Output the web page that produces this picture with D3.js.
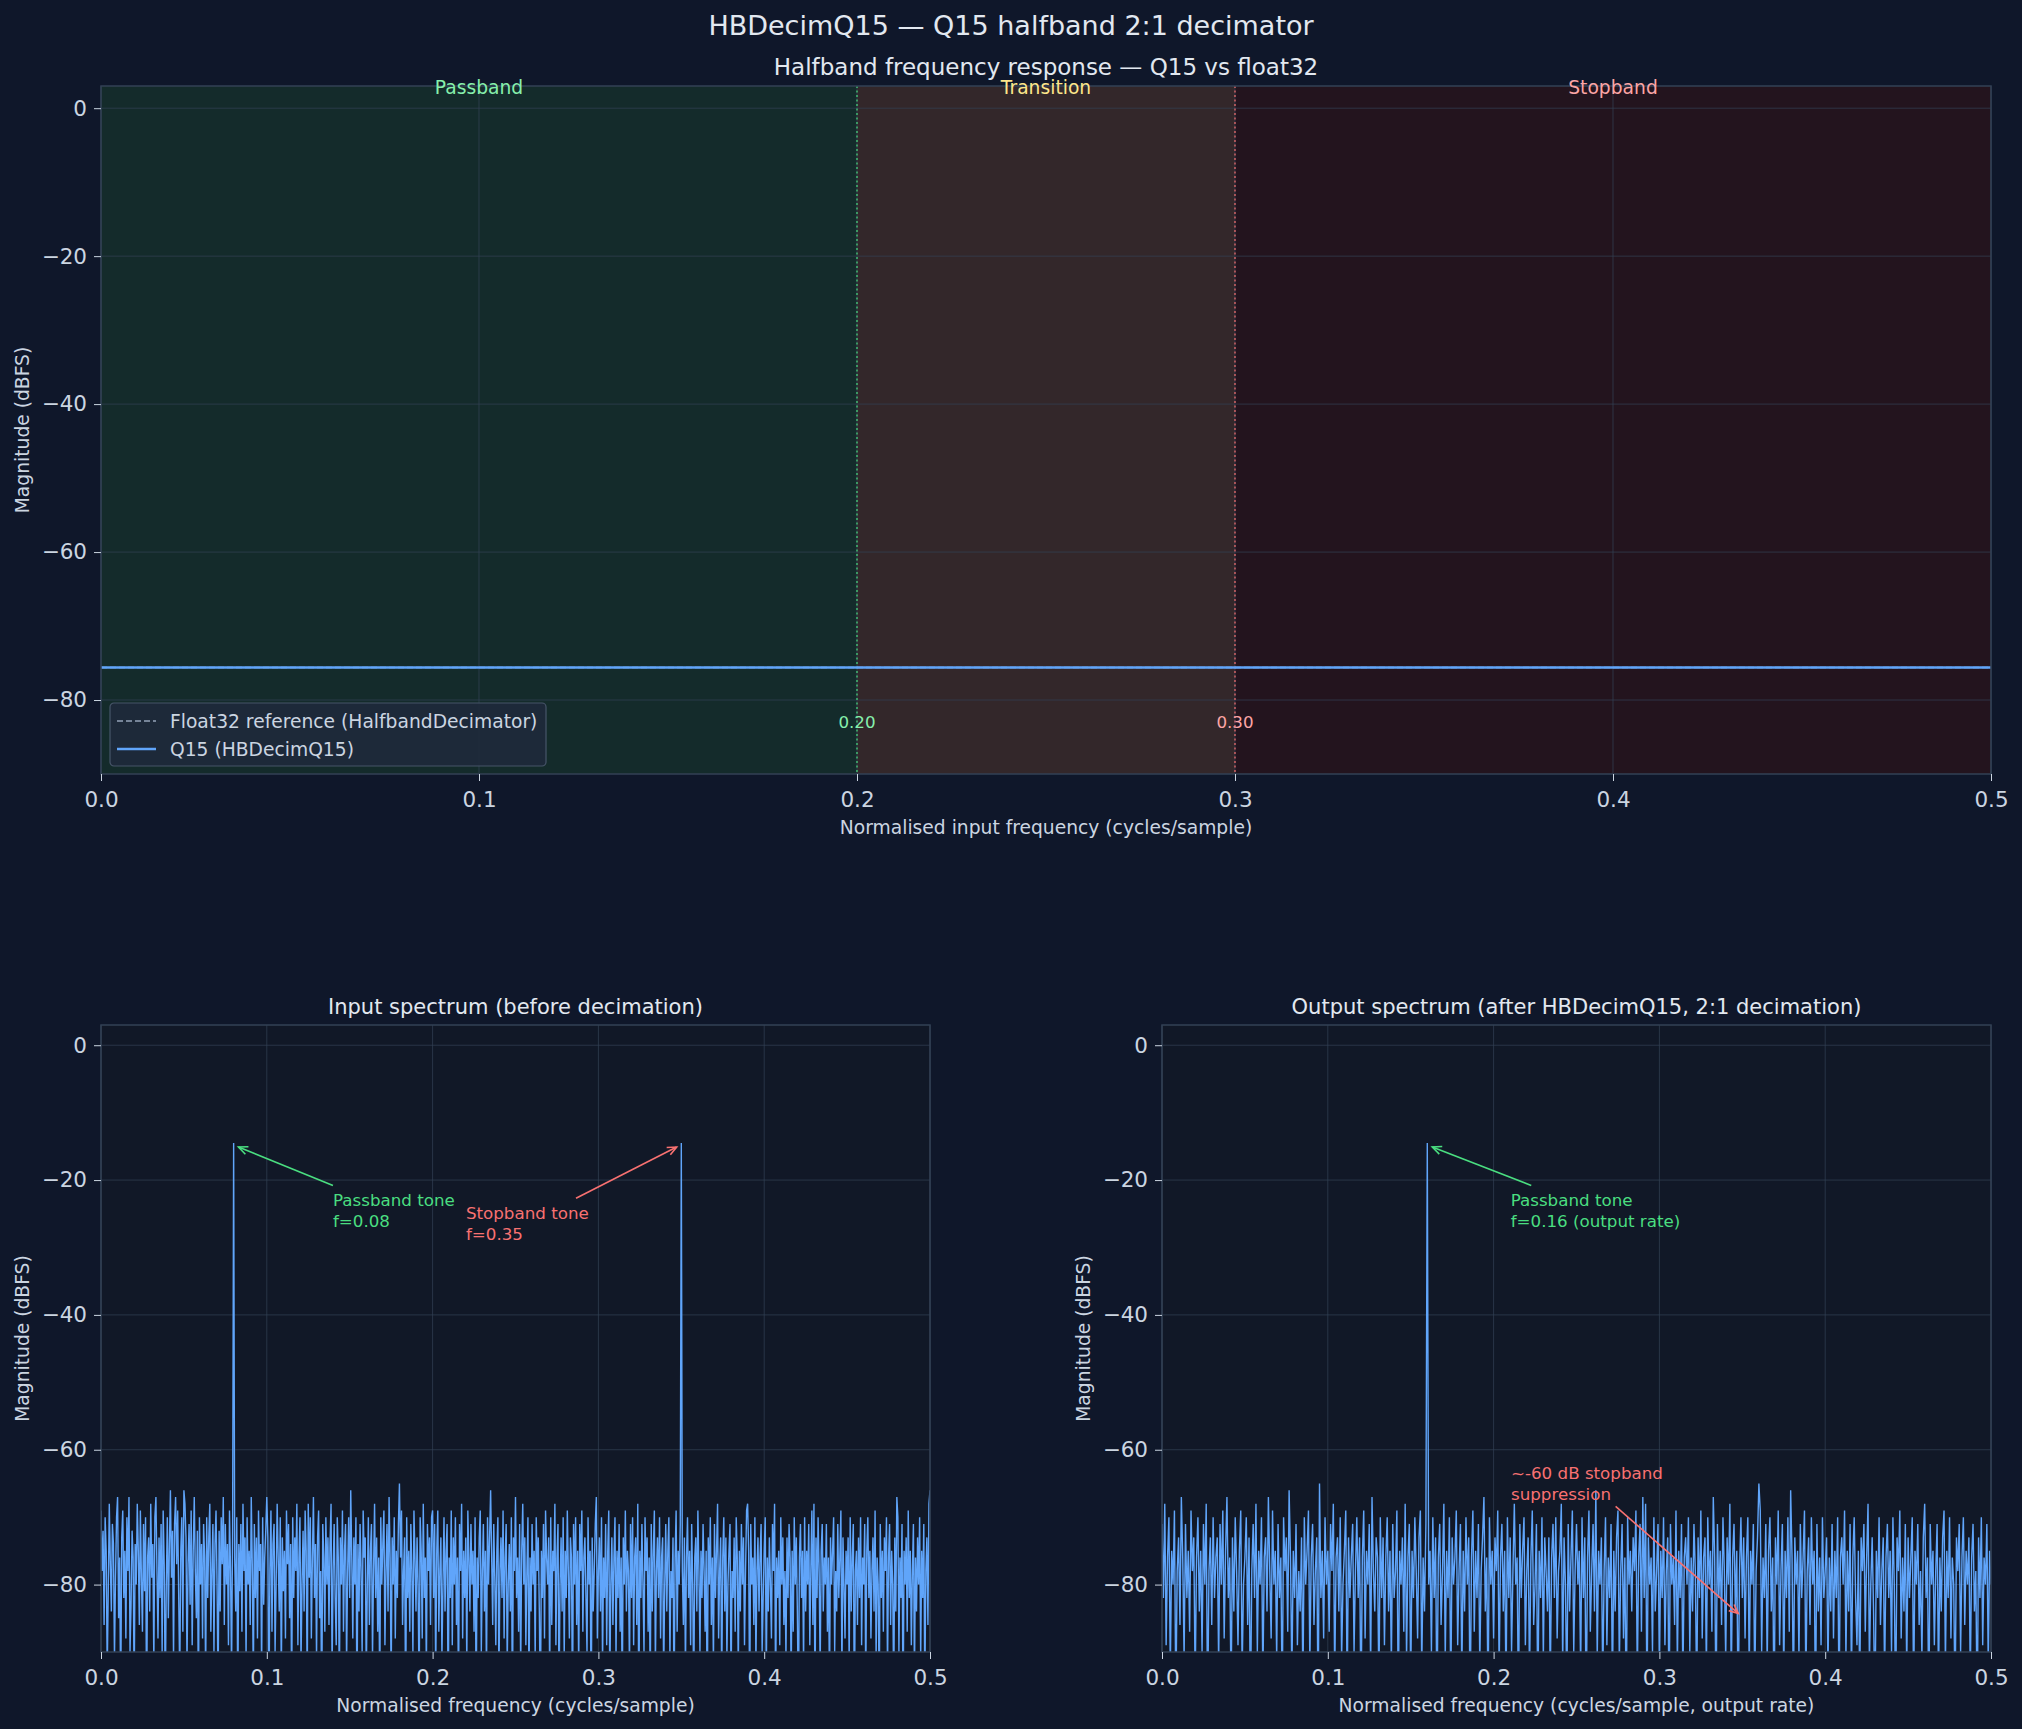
<!DOCTYPE html>
<html>
<head>
<meta charset="utf-8">
<script src="https://cdn.jsdelivr.net/npm/d3@7"></script>
<style>
  html, body { margin: 0; padding: 0; background: #0f172a; }
  svg { display: block; font-family: 'DejaVu Sans', sans-serif; }
</style>
</head>
<body>
<div id="chart"></div>
<script>
/* HBDecimQ15 halfband decimator figure */

/* ---- data ---- */
var xTicks = [0, 0.1, 0.2, 0.3, 0.4, 0.5];
var yTicks = [-80, -60, -40, -20, 0];
var yDomain = [-90, 3];

var bandNames = ['Passband', 'Transition', 'Stopband'];
var bandEdges = [[0, 0.2], [0.2, 0.3], [0.3, 0.5]];
var edgeMarks = [0.2, 0.3];

// halfband response (both curves sit on the same flat level)
var respFreq = [0, 0.5];
var float32Db = [-75.6, -75.6];
var q15Db = [-75.6, -75.6];

// input spectrum, 801 bins from 0 to 0.5 (tones at 0.08 and 0.35)
var inputDb = [
  -69, -78, -72, -86, -70, -75, -93, -81, -68, -77, -84, -71, -74, -91, -79, -70, -67, -85, -76, -98,
  -73, -69, -82, -75, -88, -70, -78, -67, -90, -83, -72, -76, -96, -74, -80, -68, -75, -86, -69, -79,
  -87, -71, -81, -70, -100, -76, -73, -84, -68, -79, -74, -92, -70, -67, -78, -88, -73, -82, -71, -90,
  -69, -77, -97, -80, -70, -85, -74, -66, -79, -72, -91, -71, -67, -77, -69, -82, -94, -75, -70, -87,
  -66, -68, -73, -92, -77, -71, -83, -69, -89, -75, -67, -78, -85, -72, -99, -70, -80, -74, -88, -71,
  -76, -94, -70, -82, -73, -68, -87, -78, -71, -90, -74, -69, -80, -96, -72, -84, -70, -77, -67, -86,
  -71, -80, -74, -89, -69, -78, -93, -72, -14.5, -76, -84, -70, -98, -74, -81, -71, -87, -68, -78, -73,
  -91, -70, -80, -75, -86, -67, -77, -95, -71, -82, -73, -88, -69, -78, -74, -93, -70, -83, -76, -72,
  -67, -73, -100, -78, -69, -87, -74, -71, -90, -80, -68, -76, -84, -70, -94, -73, -81, -75, -88, -69,
  -77, -71, -85, -74, -97, -70, -82, -73, -78, -68, -89, -76, -70, -92, -80, -72, -84, -69, -75, -95,
  -68, -79, -70, -88, -76, -67, -82, -74, -91, -73, -69, -85, -78, -100, -71, -76, -87, -70, -80, -73,
  -86, -74, -68, -93, -78, -71, -82, -89, -70, -76, -96, -73, -80, -69, -87, -75, -71, -92, -78, -70,
  -82, -66, -76, -88, -73, -80, -70, -99, -74, -84, -71, -78, -90, -69, -76, -73, -94, -80, -70, -86,
  -75, -71, -91, -78, -68, -82, -73, -87, -76, -97, -70, -80, -74, -69, -89, -78, -71, -84, -67, -76,
  -95, -73, -80, -70, -88, -75, -82, -71, -65, -76, -69, -86, -78, -73, -100, -70, -82, -75, -87, -71,
  -78, -90, -69, -76, -84, -73, -80, -97, -70, -75, -88, -68, -82, -76, -93, -71, -78, -73, -86, -70,
  -69, -82, -71, -94, -75, -69, -87, -78, -73, -91, -80, -70, -84, -75, -71, -100, -76, -82, -69, -89,
  -73, -80, -70, -86, -76, -97, -71, -78, -68, -88, -75, -82, -73, -92, -69, -76, -84, -71, -80, -75,
  -87, -70, -99, -76, -82, -73, -69, -90, -78, -71, -84, -75, -94, -70, -80, -73, -66, -76, -86, -71,
  -79, -89, -75, -70, -95, -78, -73, -82, -69, -88, -76, -71, -92, -80, -74, -84, -70, -100, -73, -78,
  -67, -82, -76, -87, -71, -93, -75, -68, -80, -73, -89, -78, -70, -96, -76, -84, -71, -80, -75, -91,
  -70, -78, -73, -84, -100, -75, -82, -71, -88, -69, -76, -80, -73, -94, -70, -86, -75, -78, -68, -89,
  -76, -71, -97, -80, -73, -84, -70, -91, -75, -82, -69, -78, -88, -73, -76, -99, -71, -80, -70, -86,
  -75, -93, -71, -78, -69, -87, -76, -73, -82, -90, -70, -80, -75, -100, -73, -84, -78, -71, -67, -88,
  -78, -73, -84, -70, -92, -76, -82, -71, -89, -75, -69, -95, -80, -73, -86, -76, -70, -91, -75, -82,
  -71, -87, -76, -98, -73, -80, -69, -84, -75, -78, -93, -71, -82, -70, -89, -76, -73, -86, -68, -100,
  -75, -82, -71, -80, -90, -70, -78, -73, -87, -76, -96, -71, -84, -75, -69, -92, -78, -73, -82, -70,
  -88, -76, -73, -94, -80, -71, -84, -75, -70, -91, -78, -82, -73, -99, -76, -69, -87, -75, -80, -71,
  -14.5, -78, -86, -73, -93, -76, -70, -82, -75, -89, -71, -80, -97, -76, -73, -84, -69, -78, -90, -75,
  -82, -71, -78, -87, -75, -100, -73, -80, -70, -86, -76, -92, -71, -82, -75, -68, -88, -78, -73, -95,
  -76, -70, -84, -73, -91, -80, -75, -71, -96, -78, -82, -73, -87, -70, -76, -93, -75, -84, -71, -80,
  -73, -89, -78, -69, -68, -75, -99, -71, -80, -76, -86, -70, -92, -78, -73, -84, -76, -71, -90, -82,
  -75, -70, -94, -76, -84, -73, -80, -88, -71, -78, -68, -97, -76, -82, -75, -89, -70, -80, -73, -86,
  -78, -91, -73, -82, -71, -76, -95, -75, -87, -70, -80, -73, -84, -100, -76, -71, -82, -75, -92, -70,
  -84, -75, -80, -71, -89, -78, -69, -86, -68, -98, -73, -82, -70, -78, -93, -75, -71, -84, -76, -80,
  -71, -87, -76, -96, -73, -80, -75, -70, -90, -78, -84, -71, -82, -76, -69, -94, -73, -80, -88, -75,
  -80, -73, -92, -70, -84, -76, -71, -100, -78, -75, -86, -73, -82, -70, -89, -76, -80, -71, -95, -75,
  -70, -82, -75, -88, -78, -73, -84, -69, -91, -76, -80, -98, -71, -82, -75, -87, -73, -78, -70, -93,
  -76, -71, -86, -75, -80, -97, -73, -84, -67, -70, -90, -76, -82, -71, -100, -75, -80, -73, -87, -69,
  -82, -75, -89, -78, -71, -94, -76, -84, -73, -80, -70, -91, -75, -82, -71, -96, -78, -73, -86, -68,
  -66
];

// output spectrum after 2:1 decimation, 601 bins (tone at 0.16)
var outputDb = [
  -71, -82, -68, -89, -76, -70, -93, -75, -80, -69, -98, -78, -73, -86, -67, -76, -91, -71, -82, -75,
  -87, -69, -78, -73, -95, -76, -70, -84, -75, -90, -71, -80, -68, -100, -78, -73, -86, -70, -82, -76,
  -73, -92, -71, -80, -69, -88, -75, -67, -82, -76, -97, -73, -84, -70, -78, -89, -75, -69, -93, -80,
  -76, -70, -86, -73, -100, -78, -71, -82, -68, -90, -75, -80, -70, -95, -76, -73, -84, -67, -78, -88,
  -69, -80, -75, -91, -71, -82, -76, -98, -70, -78, -73, -87, -66, -76, -94, -75, -82, -71, -89, -78,
  -84, -73, -96, -70, -80, -75, -69, -92, -76, -71, -86, -78, -73, -100, -65, -82, -75, -88, -70, -80,
  -75, -87, -71, -78, -68, -94, -76, -73, -84, -70, -91, -80, -75, -69, -97, -73, -82, -76, -71, -90,
  -78, -70, -82, -73, -100, -76, -69, -88, -75, -80, -71, -93, -67, -78, -84, -73, -76, -96, -70, -82,
  -73, -89, -76, -70, -84, -75, -92, -71, -82, -78, -69, -99, -75, -80, -73, -87, -68, -91, -76, -71,
  -95, -75, -82, -70, -78, -88, -73, -69, -93, -76, -84, -71, -14.5, -80, -75, -90, -70, -82, -73, -100,
  -76, -71, -86, -78, -68, -91, -75, -82, -70, -97, -73, -80, -76, -69, -89, -78, -71, -94, -75, -84,
  -70, -80, -73, -100, -76, -69, -87, -75, -82, -71, -92, -78, -73, -67, -84, -76, -98, -70, -80, -75,
  -88, -73, -78, -69, -93, -76, -71, -84, -75, -96, -70, -82, -73, -90, -78, -68, -80, -76, -99, -71,
  -82, -75, -70, -89, -78, -73, -94, -76, -69, -86, -80, -71, -100, -75, -82, -70, -91, -73, -78, -84,
  -73, -95, -76, -71, -82, -70, -88, -78, -75, -68, -92, -73, -80, -97, -71, -84, -76, -69, -90, -78,
  -71, -80, -75, -93, -70, -82, -73, -100, -76, -69, -87, -78, -71, -84, -66, -91, -75, -80, -73, -95,
  -78, -70, -89, -76, -82, -71, -96, -75, -84, -73, -69, -92, -78, -71, -88, -76, -100, -70, -80, -75,
  -84, -73, -78, -69, -94, -76, -71, -87, -67, -82, -68, -98, -73, -80, -76, -90, -70, -84, -78, -71,
  -93, -75, -82, -70, -89, -78, -73, -100, -71, -80, -76, -86, -69, -92, -75, -82, -71, -95, -76, -73,
  -80, -70, -90, -76, -84, -71, -78, -97, -73, -82, -69, -88, -76, -73, -93, -70, -80, -75, -87, -67,
  -76, -99, -71, -82, -75, -86, -70, -78, -91, -73, -80, -68, -95, -76, -71, -84, -75, -100, -78, -70,
  -82, -73, -88, -76, -70, -93, -75, -80, -71, -96, -78, -73, -65, -69, -90, -76, -82, -71, -92, -75,
  -70, -84, -76, -100, -73, -80, -69, -89, -78, -71, -94, -75, -82, -70, -87, -66, -76, -97, -73, -80,
  -75, -91, -71, -82, -76, -69, -95, -78, -73, -86, -70, -80, -75, -100, -71, -84, -76, -89, -70, -82,
  -78, -73, -93, -76, -84, -71, -88, -75, -82, -70, -98, -76, -73, -80, -69, -91, -75, -84, -71, -94,
  -76, -70, -82, -89, -75, -96, -73, -78, -71, -87, -76, -68, -92, -80, -73, -84, -100, -75, -82, -70,
  -86, -78, -73, -94, -76, -71, -82, -75, -90, -70, -80, -99, -73, -78, -69, -88, -76, -84, -71, -93,
  -73, -82, -76, -70, -97, -75, -80, -71, -86, -78, -91, -73, -68, -82, -76, -100, -71, -80, -75, -89,
  -78, -71, -95, -76, -84, -73, -69, -92, -75, -82, -70, -88, -76, -80, -98, -73, -78, -71, -90, -76,
  -70, -86, -75, -80, -73, -94, -76, -71, -84, -78, -100, -73, -82, -70, -89, -76, -80, -71, -92, -75,
  -80
];

/* ---- layout ---- */
var W = 2022, H = 1729;
var FONT_TICK = 21.5, FONT_LABEL = 18.7, FONT_NOTE = 16.7;
var C = {
  bg: '#0f172a', axbg: '#111827', spine: '#334155', grid: '#334155',
  text: '#cbd5e1', title: '#e2e8f0', line: '#60a5fa', ref: '#94a3b8',
  green: '#4ade80', red: '#f87171'
};

var svg = d3.select('#chart').append('svg')
  .attr('width', W).attr('height', H);

svg.append('rect').attr('width', W).attr('height', H).attr('fill', C.bg);

function makePanel(id, box, title, xlabel, ylabelX, titleSize) {
  var x = d3.scaleLinear().domain([0, 0.5]).range([box.left, box.right]);
  var y = d3.scaleLinear().domain(yDomain).range([box.bottom, box.top]);
  var g = svg.append('g').attr('class', id);

  g.append('rect')
    .attr('x', box.left).attr('y', box.top)
    .attr('width', box.right - box.left).attr('height', box.bottom - box.top)
    .attr('fill', C.axbg);

  var under = g.append('g');

  // grid
  var grid = g.append('g');
  grid.selectAll('.gx').data(xTicks).enter().append('line')
    .attr('x1', x).attr('x2', x)
    .attr('y1', box.top).attr('y2', box.bottom);
  grid.selectAll('.gy').data(yTicks).enter().append('line')
    .attr('x1', box.left).attr('x2', box.right)
    .attr('y1', y).attr('y2', y);
  grid.selectAll('line')
    .attr('stroke', C.grid).attr('stroke-opacity', 0.7).attr('stroke-width', 1);

  svg.append('clipPath').attr('id', 'clip-' + id)
    .append('rect')
    .attr('x', box.left).attr('y', box.top)
    .attr('width', box.right - box.left).attr('height', box.bottom - box.top);
  var plot = g.append('g').attr('clip-path', 'url(#clip-' + id + ')');

  // spines
  g.append('rect')
    .attr('x', box.left).attr('y', box.top)
    .attr('width', box.right - box.left).attr('height', box.bottom - box.top)
    .attr('fill', 'none').attr('stroke', C.spine).attr('stroke-width', 1.5);

  var xAxis = g.append('g')
    .attr('transform', 'translate(0,' + box.bottom + ')')
    .call(d3.axisBottom(x).tickValues(xTicks).tickFormat(d3.format('.1f'))
      .tickSize(7).tickPadding(11).tickSizeOuter(0));
  var yAxis = g.append('g')
    .attr('transform', 'translate(' + box.left + ',0)')
    .call(d3.axisLeft(y).tickValues(yTicks).tickFormat(d3.format('d'))
      .tickSize(7).tickPadding(7).tickSizeOuter(0));
  [xAxis, yAxis].forEach(function(a) {
    a.select('.domain').remove();
    a.selectAll('line').attr('stroke', C.text).attr('stroke-width', 1);
    a.selectAll('text').attr('fill', C.text)
      .attr('font-size', FONT_TICK).attr('font-family', 'DejaVu Sans');
  });

  var cx = (box.left + box.right) / 2;
  g.append('text')
    .attr('x', cx).attr('y', box.top - 11)
    .attr('text-anchor', 'middle')
    .attr('fill', C.title).attr('font-size', titleSize)
    .text(title);

  g.append('text')
    .attr('x', cx).attr('y', box.bottom + 59.5)
    .attr('text-anchor', 'middle')
    .attr('fill', C.text).attr('font-size', FONT_LABEL)
    .text(xlabel);

  var cy = (box.top + box.bottom) / 2;
  g.append('text')
    .attr('transform', 'translate(' + (ylabelX + 6.7) + ',' + cy + ') rotate(-90)')
    .attr('text-anchor', 'middle')
    .attr('fill', C.text).attr('font-size', FONT_LABEL)
    .text('Magnitude (dBFS)');

  return { g: g, under: under, plot: plot, x: x, y: y, box: box };
}

function arrow(p, from, to, color) {
  var x1 = p.x(from[0]), y1 = p.y(from[1]);
  var x2 = p.x(to[0]), y2 = p.y(to[1]);
  var a = Math.atan2(y2 - y1, x2 - x1);
  var hl = 10, hw = 0.42;
  p.g.append('line')
    .attr('x1', x1).attr('y1', y1).attr('x2', x2).attr('y2', y2)
    .attr('stroke', color).attr('stroke-width', 1.6);
  p.g.append('path')
    .attr('d', 'M' + (x2 - hl * Math.cos(a - hw)) + ',' + (y2 - hl * Math.sin(a - hw)) +
      'L' + x2 + ',' + y2 +
      'L' + (x2 - hl * Math.cos(a + hw)) + ',' + (y2 - hl * Math.sin(a + hw)))
    .attr('fill', 'none').attr('stroke', color).attr('stroke-width', 1.6);
}

function note(p, at, lines, color) {
  var t = p.g.append('text')
    .attr('x', p.x(at[0])).attr('y', p.y(at[1]))
    .attr('fill', color).attr('font-size', FONT_NOTE);
  lines.forEach(function(s, i) {
    t.append('tspan').attr('x', p.x(at[0])).attr('dy', i ? 21 : 0).text(s);
  });
}

/* ---- suptitle ---- */
svg.append('text')
  .attr('x', W / 2).attr('y', 35)
  .attr('text-anchor', 'middle')
  .attr('fill', C.title).attr('font-size', 27)
  .text('HBDecimQ15 \u2014 Q15 halfband 2:1 decimator');

/* ---- top: frequency response ---- */
var respPanel = makePanel('resp', { left: 101, right: 1991, top: 86, bottom: 774 },
  'Halfband frequency response \u2014 Q15 vs float32',
  'Normalised input frequency (cycles/sample)', 22, 23);

var bandFill = ['#142b2b', '#33272a', '#23141e'];
var bandText = ['#86efac', '#fde68a', '#fca5a5'];
respPanel.under.selectAll('rect').data(bandEdges).enter().append('rect')
  .attr('x', function(d) { return respPanel.x(d[0]); })
  .attr('width', function(d) { return respPanel.x(d[1]) - respPanel.x(d[0]); })
  .attr('y', respPanel.box.top).attr('height', respPanel.box.bottom - respPanel.box.top)
  .attr('fill', function(d, i) { return bandFill[i]; });

respPanel.g.selectAll('.bandlabel').data(bandEdges).enter().append('text')
  .attr('x', function(d) { return respPanel.x((d[0] + d[1]) / 2); })
  .attr('y', respPanel.box.top + 8)
  .attr('text-anchor', 'middle')
  .attr('fill', function(d, i) { return bandText[i]; })
  .attr('font-size', FONT_LABEL)
  .text(function(d, i) { return bandNames[i]; });

var edgeColor = [C.green, C.red];
respPanel.plot.selectAll('.edge').data(edgeMarks).enter().append('line')
  .attr('x1', respPanel.x).attr('x2', respPanel.x)
  .attr('y1', respPanel.box.top).attr('y2', respPanel.box.bottom)
  .attr('stroke', function(d, i) { return edgeColor[i]; })
  .attr('stroke-width', 1.2).attr('stroke-dasharray', '2,2.5');
respPanel.g.selectAll('.edgelabel').data(edgeMarks).enter().append('text')
  .attr('x', respPanel.x).attr('y', respPanel.y(-83) + 6)
  .attr('text-anchor', 'middle')
  .attr('fill', function(d, i) { return bandText[i === 0 ? 0 : 2]; })
  .attr('font-size', FONT_NOTE)
  .text(d3.format('.2f'));

var respLine = d3.line()
  .x(function(d, i) { return respPanel.x(respFreq[i]); })
  .y(function(d) { return respPanel.y(d); });
respPanel.plot.append('path').datum(float32Db)
  .attr('d', respLine).attr('fill', 'none')
  .attr('stroke', C.ref).attr('stroke-width', 1.5).attr('stroke-dasharray', '6,3');
respPanel.plot.append('path').datum(q15Db)
  .attr('d', respLine).attr('fill', 'none')
  .attr('stroke', C.line).attr('stroke-width', 2.5);

// legend
var lg = respPanel.g.append('g').attr('transform', 'translate(110,703)');
lg.append('rect').attr('width', 436).attr('height', 63).attr('rx', 4)
  .attr('fill', '#1e293b').attr('fill-opacity', 0.9)
  .attr('stroke', '#475569').attr('stroke-width', 1.2);
var legendItems = [
  { label: 'Float32 reference (HalfbandDecimator)', color: C.ref, dash: '6,3', w: 1.5 },
  { label: 'Q15 (HBDecimQ15)', color: C.line, dash: null, w: 2.5 }
];
legendItems.forEach(function(it, i) {
  var yy = 18 + i * 28;
  lg.append('line').attr('x1', 7).attr('x2', 46).attr('y1', yy).attr('y2', yy)
    .attr('stroke', it.color).attr('stroke-width', it.w)
    .attr('stroke-dasharray', it.dash);
  lg.append('text').attr('x', 60).attr('y', yy + 6.5)
    .attr('fill', C.text).attr('font-size', FONT_LABEL).text(it.label);
});

/* ---- bottom: spectra ---- */
function spectrum(p, values) {
  var line = d3.line()
    .x(function(d, i) { return p.x(i * 0.5 / (values.length - 1)); })
    .y(function(d) { return p.y(d); });
  p.plot.append('path').datum(values)
    .attr('d', line).attr('fill', 'none')
    .attr('stroke', C.line).attr('stroke-width', 1.4);
}

var inPanel = makePanel('inp', { left: 101, right: 930, top: 1025, bottom: 1652 },
  'Input spectrum (before decimation)',
  'Normalised frequency (cycles/sample)', 22, 21);
spectrum(inPanel, inputDb);
arrow(inPanel, [0.1399, -20.8], [0.0829, -15.1], C.green);
note(inPanel, [0.1399, -23.8], ['Passband tone', 'f=0.08'], C.green);
arrow(inPanel, [0.2865, -22.7], [0.3472, -15.1], C.red);
note(inPanel, [0.2201, -25.8], ['Stopband tone', 'f=0.35'], C.red);

var outPanel = makePanel('out', { left: 1162, right: 1991, top: 1025, bottom: 1652 },
  'Output spectrum (after HBDecimQ15, 2:1 decimation)',
  'Normalised frequency (cycles/sample, output rate)', 1083, 21);
spectrum(outPanel, outputDb);
arrow(outPanel, [0.2227, -20.8], [0.163, -15.1], C.green);
note(outPanel, [0.2103, -23.8], ['Passband tone', 'f=0.16 (output rate)'], C.green);
arrow(outPanel, [0.2736, -68.4], [0.3476, -84.3], C.red);
note(outPanel, [0.2105, -64.4], ['~-60 dB stopband', 'suppression'], C.red);
</script>
</body>
</html>
